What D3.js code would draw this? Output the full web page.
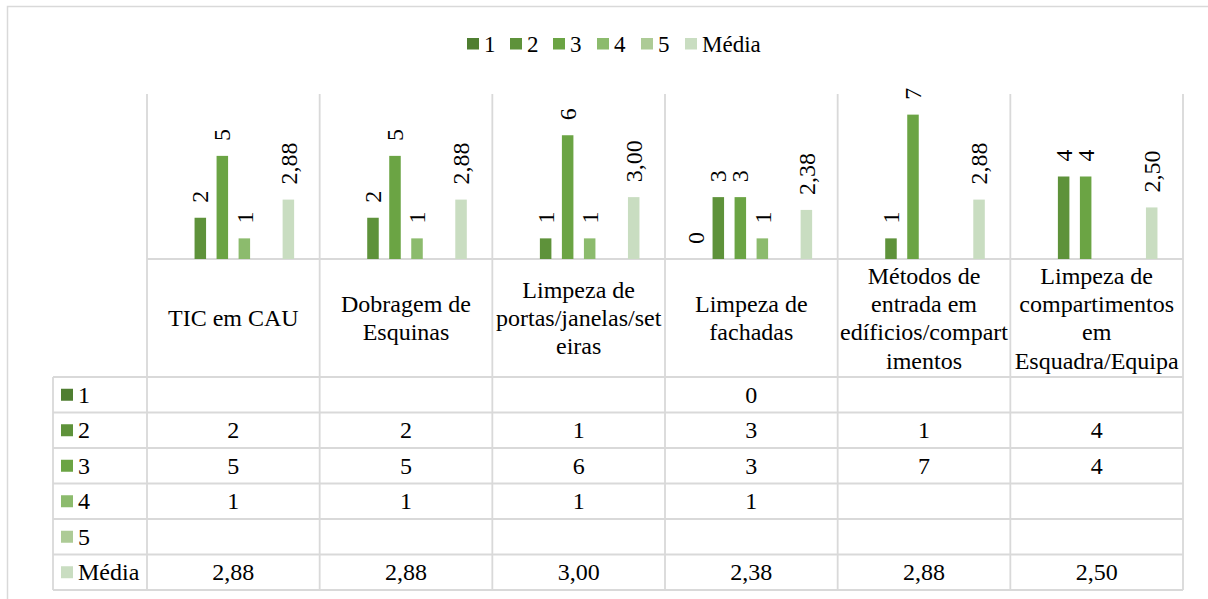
<!DOCTYPE html>
<html><head><meta charset="utf-8"><script src="https://cdn.jsdelivr.net/npm/d3@7"></script></head>
<body style="margin:0">
<svg id="chart" width="1208" height="599"></svg>
<script>
// ---- data ----
const categories = [
  "TIC em CAU",
  "Dobragem de Esquinas",
  "Limpeza de portas/janelas/seteiras",
  "Limpeza de fachadas",
  "Métodos de entrada em edíficios/compartimentos",
  "Limpeza de compartimentos em Esquadra/Equipa"
];
const categoryLines = [
  ["TIC em CAU"],
  ["Dobragem de", "Esquinas"],
  ["Limpeza de", "portas/janelas/set", "eiras"],
  ["Limpeza de", "fachadas"],
  ["Métodos de", "entrada em", "edíficios/compart", "imentos"],
  ["Limpeza de", "compartimentos", "em", "Esquadra/Equipa"]
];
const seriesNames = ["1", "2", "3", "4", "5", "Média"];
const s1 = [null, null, null, 0, null, null];
const s2 = [2, 2, 1, 3, 1, 4];
const s3 = [5, 5, 6, 3, 7, 4];
const s4 = [1, 1, 1, 1, null, null];
const s5 = [null, null, null, null, null, null];
const media = [2.88, 2.88, 3.00, 2.38, 2.88, 2.50];
const seriesValues = [s1, s2, s3, s4, s5, media];
const seriesColors = ["#4f7e31", "#5e923a", "#6ba444", "#8cbb6d", "#adcb96", "#c9ddc1"];
const yTicks = [0, 8];

// ---- layout ----
const svg = d3.select("#chart");
const gridColor = "#d9d9d9";
const plotL = 147, plotR = 1183, plotT = 94, plotB = 259;
const headerB = 377, rowH = 35.5, tableL = 53;
const fontSize = 24;
const K = 2; // text drawn at K× size and scaled down

const fmt = v => v == null ? "" : String(v);
const fmtMedia = v => v == null ? "" : v.toFixed(2).replace(".", ",");
const fmtVal = (si, v) => seriesNames[si] === "Média" ? fmtMedia(v) : fmt(v);

// place a text at (x,y) with optional rotation; font requested at K× size then scaled
function label(x, y, str, size, anchor, rot) {
  const g = svg.append("g")
    .attr("transform", `translate(${x},${y})${rot ? ` rotate(${rot})` : ""} scale(${1 / K})`);
  g.append("text")
    .style("font-family", "'Liberation Serif'")
    .style("font-size", (size * K) + "px")
    .attr("fill", "#000")
    .attr("dy", "0.34em")
    .attr("text-anchor", anchor || "start")
    .text(str);
}

svg.append("rect").attr("x", 7.5).attr("y", 6.5).attr("width", 1400).attr("height", 800)
  .attr("fill", "none").attr("stroke", gridColor).attr("stroke-width", 1.5);

const x0 = d3.scaleBand().domain(categories).range([plotL, plotR]).padding(0);
const x1 = d3.scaleBand().domain(seriesNames).range([0, x0.bandwidth()])
  .paddingInner(0.477).paddingOuter(1.16);
const y = d3.scaleLinear().domain([yTicks[0], yTicks[1]]).range([plotB, plotT]);
const tableB = headerB + rowH * seriesNames.length;

const bounds = categories.map(c => x0(c)).concat([plotR]);
svg.append("g").selectAll("line").data(bounds).join("line")
  .attr("x1", d => d).attr("x2", d => d).attr("y1", plotT).attr("y2", tableB)
  .attr("stroke", gridColor).attr("stroke-width", 1.8);
svg.append("line").attr("x1", plotL).attr("x2", plotR).attr("y1", plotB).attr("y2", plotB)
  .attr("stroke", gridColor).attr("stroke-width", 1.8);
const rowLines = d3.range(seriesNames.length + 1).map(i => headerB + i * rowH);
svg.append("g").selectAll("line").data(rowLines).join("line")
  .attr("x1", tableL).attr("x2", plotR).attr("y1", d => d).attr("y2", d => d)
  .attr("stroke", gridColor).attr("stroke-width", 1.8);
svg.append("line").attr("x1", tableL).attr("x2", tableL).attr("y1", headerB).attr("y2", tableB)
  .attr("stroke", gridColor).attr("stroke-width", 1.8);

const barData = [];
seriesValues.forEach((vals, si) => vals.forEach((v, ci) => { if (v != null) barData.push({ si, ci, v }); }));
svg.append("g").selectAll("rect").data(barData).join("rect")
  .attr("x", d => x0(categories[d.ci]) + x1(seriesNames[d.si]))
  .attr("width", x1.bandwidth())
  .attr("y", d => y(d.v))
  .attr("height", d => y(0) - y(d.v))
  .attr("fill", d => seriesColors[d.si]);

// data labels
barData.forEach(d => {
  const cx = x0(categories[d.ci]) + x1(seriesNames[d.si]) + x1.bandwidth() / 2;
  label(cx, y(d.v) - 15, fmtVal(d.si, d.v), fontSize, "start", -90);
});

// category labels
const lineH = 28.3;
categories.forEach((c, i) => {
  const lines = categoryLines[i];
  const cx = x0(c) + x0.bandwidth() / 2;
  const cy = (plotB + headerB) / 2;
  const startY = cy - (lines.length - 1) * lineH / 2;
  lines.forEach((ln, k) => label(cx, startY + k * lineH, ln, fontSize, "middle"));
});

// table rows
seriesNames.forEach((name, si) => {
  const cy = headerB + si * rowH + rowH / 2;
  svg.append("rect").attr("x", 61).attr("y", cy - 6).attr("width", 12).attr("height", 12)
    .attr("fill", seriesColors[si]);
  label(78, cy, name, fontSize, "start");
  seriesValues[si].forEach((v, ci) => {
    if (v == null) return;
    label(x0(categories[ci]) + x0.bandwidth() / 2, cy, fmtVal(si, v), fontSize, "middle");
  });
});

// legend
const legendX = [467, 510, 553, 597, 641, 685];
seriesNames.forEach((name, i) => {
  svg.append("rect").attr("x", legendX[i]).attr("y", 38).attr("width", 12).attr("height", 11.5)
    .attr("fill", seriesColors[i]);
  label(legendX[i] + 17, 44, name, 23, "start");
});
</script>
</body></html>
